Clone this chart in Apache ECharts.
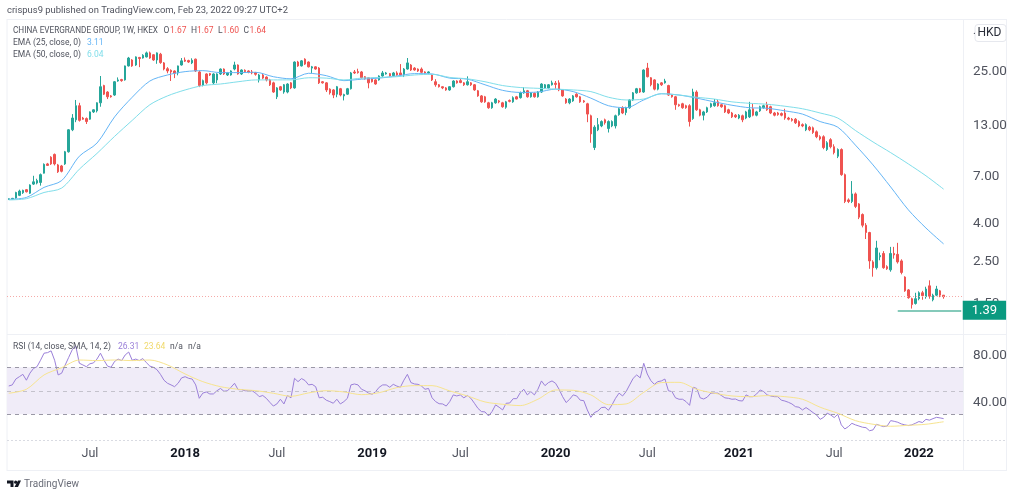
<!DOCTYPE html>
<html>
<head>
<meta charset="utf-8">
<title>China Evergrande Group, 1W</title>
<style>html,body{margin:0;padding:0;background:#fff}#main{width:1024px;height:496px}</style>
<script src="https://cdn.jsdelivr.net/npm/echarts@6/dist/echarts.min.js"></script>
</head>
<body>
<div id="main"></div>
<script>
// weekly bars, first bar is the week of 2017-01-23, 5 empty weeks on the right
var firstWeek = "2017-01-23";
var barCount = 271;

var timeTickWeeks = [23, 50, 76, 103, 128, 155, 181, 207, 234, 258];
var timeTickLabels = ["Jul", "2018", "Jul", "2019", "Jul", "2020", "Jul", "2021", "Jul", "2022"];
var priceTicks = [25, 13, 7, 4, 2.5, 1.5];
var rsiTicks = [80, 40];

var opens = [5.33,5.35,5.42,5.60,5.78,6.00,5.75,6.42,6.50,6.55,
7.33,8.20,8.90,9.20,8.10,8.00,8.20,9.50,12.4,14.0,
16.6,14.3,14.2,14.1,15.4,15.6,17.2,21.2,19.6,18.7,
18.9,22.4,22.8,22.7,26.9,28.9,27.2,29.8,29.6,30.0,
31.5,30.8,28.9,31.0,27.9,26.0,25.5,25.3,24.7,27.2,
28.9,28.7,27.9,29.2,25.0,21.3,24.4,24.5,21.9,22.7,
24.4,25.9,24.1,24.1,25.9,27.2,24.4,25.5,25.3,25.0,
24.8,22.7,24.1,23.5,22.7,21.9,18.5,20.9,19.6,19.6,
21.9,20.6,28.2,26.9,29.2,28.2,26.2,26.6,26.2,22.2,
21.9,20.3,20.1,19.1,20.4,18.7,19.1,20.4,25.0,25.1,
25.0,23.6,23.3,23.0,22.7,22.7,23.8,24.4,24.5,23.9,
24.7,24.7,24.1,25.9,27.2,26.2,25.9,25.9,25.0,24.7,
24.1,22.2,21.4,20.9,20.6,20.1,20.9,22.4,22.5,21.9,
21.4,21.9,21.4,19.9,18.7,18.5,17.2,16.2,17.2,17.6,
17.2,16.3,17.7,17.4,18.5,18.3,19.4,19.9,18.5,19.3,
18.5,19.6,20.6,20.6,21.4,21.8,21.9,20.1,18.0,17.2,
17.6,19.1,18.5,17.6,17.0,14.7,10.0,12.4,13.0,14.0,
12.6,13.0,13.0,14.9,16.2,15.3,16.2,17.8,19.4,20.4,
19.6,26.2,23.3,22.7,20.3,21.9,21.9,21.2,18.9,18.5,
16.8,17.0,16.6,16.6,14.2,19.6,15.8,14.8,15.4,16.4,
16.6,17.4,16.8,16.6,15.8,15.2,14.8,14.3,14.7,14.3,
14.5,16.0,14.8,15.6,16.2,16.8,16.4,15.2,15.2,15.1,
15.2,14.3,14.1,14.1,13.7,13.2,12.4,12.8,12.7,12.1,
11.4,11.4,9.76,11.0,10.1,9.0,9.76,7.2,5.3,5.2,
5.7,5.05,4.44,3.9,3.57,2.5,2.33,2.66,2.77,2.36,
2.27,2.77,2.74,2.53,2.08,1.78,1.6,1.51,1.6,1.72,
1.64,1.87,1.58,1.67,1.76,1.67];

var closes = [5.37,5.40,5.80,5.90,5.95,5.85,6.35,6.60,6.70,7.20,
8.16,8.05,8.20,8.20,7.45,7.50,9.50,12.4,14.3,16.6,
13.9,14.1,13.7,15.4,15.8,17.2,20.9,19.1,18.5,18.5,
22.2,22.7,22.5,26.9,29.6,26.9,30.0,29.4,30.6,31.5,
29.6,28.9,31.5,28.0,25.9,25.3,25.0,24.6,26.9,28.6,
28.5,28.2,28.8,25.3,21.2,22.5,21.9,24.1,24.4,24.4,
25.9,24.4,24.7,25.3,27.2,24.4,25.6,25.1,24.9,24.7,
24.3,24.1,23.2,22.7,21.4,19.6,20.6,20.1,21.4,21.6,
20.6,28.2,26.9,28.6,27.5,26.6,26.6,25.9,21.9,21.9,
20.1,19.4,18.9,20.9,18.9,19.0,20.4,24.7,24.7,24.8,
23.3,23.0,21.9,22.2,21.6,23.8,24.7,24.7,23.8,24.7,
24.1,24.1,25.9,27.9,25.6,25.6,25.3,24.9,24.7,25.0,
22.7,21.4,20.9,20.6,20.1,20.9,22.4,21.9,22.0,21.4,
22.2,21.4,20.1,18.7,17.4,17.4,16.2,17.2,18.0,17.4,
16.4,17.4,17.5,18.3,18.0,19.4,19.9,18.5,19.4,18.5,
19.6,21.6,21.4,21.4,21.9,21.5,20.1,18.7,17.2,18.0,
18.7,18.5,17.4,17.4,15.0,11.8,12.8,13.2,13.7,13.5,
13.7,13.7,14.7,16.0,15.2,16.2,17.8,19.4,20.4,19.6,
25.6,23.6,21.4,20.3,21.6,21.4,22.4,18.9,18.5,16.8,
16.6,16.2,16.2,13.7,19.6,15.8,14.8,15.4,16.2,17.0,
17.2,16.6,16.4,15.4,15.2,14.5,14.5,14.8,14.0,15.4,
15.8,14.8,15.4,16.4,16.6,15.8,15.2,14.8,14.9,14.8,
14.3,14.1,13.9,13.5,13.0,13.0,13.2,12.4,12.0,11.4,
11.1,10.0,10.6,10.1,9.4,9.76,7.2,5.2,5.2,5.7,
4.9,4.3,3.9,3.57,2.53,2.33,2.96,2.70,2.33,2.30,
2.77,2.72,2.50,2.20,1.76,1.62,1.49,1.60,1.72,1.66,
1.80,1.65,1.67,1.80,1.67,1.64];

var lows = [5.31,5.33,5.38,5.55,5.70,5.80,5.70,6.35,6.40,6.30,
7.30,8.00,8.10,8.05,7.35,7.40,8.10,9.40,12.2,13.6,
13.7,14.0,13.3,14.0,15.2,15.3,16.4,18.9,18.0,18.3,
18.7,22.2,22.2,22.5,26.7,26.6,26.9,26.5,29.4,29.8,
29.3,28.6,27.6,27.6,25.5,24.6,22.4,23.2,24.0,27.0,
28.2,27.9,27.5,25.0,20.8,21.0,21.5,23.8,21.6,21.8,
24.1,24.1,23.8,23.9,25.5,24.2,24.1,24.9,24.6,24.3,
23.9,22.0,22.9,22.3,21.1,19.4,18.0,19.9,19.2,19.3,
20.3,20.4,26.6,26.7,27.2,26.4,24.7,25.7,21.6,21.7,
19.6,19.0,18.2,18.4,18.6,17.7,18.9,20.2,24.4,24.5,
23.1,22.8,20.5,22.0,21.4,22.5,23.6,24.2,23.6,23.7,
23.9,23.9,23.5,25.7,25.3,25.4,25.0,24.6,24.5,24.5,
22.4,20.9,20.7,20.3,19.9,19.9,20.7,21.7,21.8,21.1,
21.2,21.1,19.9,18.5,17.2,17.2,16.0,16.0,17.0,17.1,
16.2,16.0,17.3,17.2,17.9,18.1,19.2,18.3,18.3,18.3,
18.3,19.4,20.4,20.4,21.2,20.4,19.8,18.5,17.0,16.9,
17.4,18.3,17.2,17.2,13.6,10.6,9.7,12.2,12.8,13.2,
12.0,12.8,12.6,14.7,15.0,14.8,16.0,17.6,19.2,19.4,
19.4,23.4,21.0,20.0,20.0,21.1,21.7,18.7,18.3,15.8,
16.4,16.0,16.0,12.9,14.0,15.6,14.6,13.9,15.2,16.2,
16.4,16.4,16.2,15.2,15.0,14.3,14.3,14.1,13.6,14.1,
14.3,14.6,14.6,15.4,16.0,15.6,15.0,14.6,14.7,14.6,
14.0,13.9,13.7,13.3,12.8,12.8,12.2,12.2,11.8,11.2,
10.9,9.8,9.6,9.9,9.2,8.8,7.1,5.1,5.1,5.1,
4.8,4.2,3.8,3.3,2.3,2.09,2.28,2.55,2.30,2.27,
2.22,2.60,2.45,2.15,1.74,1.60,1.42,1.49,1.57,1.58,
1.60,1.60,1.55,1.65,1.63,1.60];

var highs = [5.40,5.43,5.85,6.00,6.00,6.05,6.40,7.10,6.85,7.30,
8.25,8.30,9.00,9.30,8.20,8.10,9.60,12.5,15.0,17.8,
17.2,14.5,14.4,15.5,15.9,17.3,23.8,21.4,19.8,18.9,
22.4,23.4,23.0,27.0,30.0,29.2,30.2,30.0,31.0,32.0,
32.0,31.0,31.7,31.5,28.2,26.5,25.8,25.5,27.0,29.6,
29.8,29.0,29.5,29.4,25.4,22.8,24.6,24.7,24.6,24.6,
26.1,26.1,25.0,25.5,28.3,27.4,25.8,25.8,25.5,25.6,
25.0,24.4,24.5,23.7,23.0,22.2,20.8,21.1,21.6,21.8,
22.1,28.4,28.6,28.9,29.5,28.4,26.9,26.8,26.5,22.4,
22.1,20.5,20.3,21.1,20.6,19.2,20.6,25.0,25.6,26.0,
25.3,23.8,23.5,23.2,22.9,24.0,25.3,25.0,24.7,25.0,
25.2,27.5,26.2,29.6,27.5,26.5,26.1,26.4,25.2,25.2,
24.3,22.9,21.6,21.0,20.8,21.0,22.6,22.6,23.0,22.1,
23.7,22.1,21.6,20.1,18.9,18.7,17.4,17.4,18.2,17.8,
17.4,17.6,17.9,18.6,18.7,19.7,20.8,20.1,19.6,19.5,
19.8,21.8,21.6,21.6,22.5,22.4,22.6,20.3,18.2,18.2,
18.9,19.3,18.7,17.8,17.2,14.9,13.1,14.3,13.9,14.2,
13.9,13.9,14.9,16.2,16.5,16.4,18.0,19.6,20.6,20.6,
25.8,27.9,23.5,22.9,21.8,22.1,23.0,21.4,19.1,18.7,
17.0,17.2,16.8,16.9,20.4,20.0,16.0,15.6,16.4,17.2,
18.0,17.8,17.0,16.8,16.0,15.4,15.0,15.0,14.9,15.6,
17.4,17.0,15.6,16.6,16.8,17.4,16.6,15.4,15.4,15.3,
16.0,14.5,14.3,14.3,13.9,13.4,13.4,13.0,12.9,12.3,
11.6,11.6,10.8,11.2,10.4,9.9,9.9,7.3,5.4,6.66,
5.8,5.1,4.5,4.0,3.6,2.55,3.23,2.80,2.85,2.40,
3.0,3.0,3.15,2.58,2.10,1.80,1.62,1.72,1.75,1.76,
1.85,2.00,1.70,1.87,1.78,1.67];

var sampleWeeks = [0,5,10,15,20,25,30,35,40,45,50,55,60,65,70,75,80,85,90,95,
100,105,110,115,120,125,130,135,140,145,150,155,160,165,170,175,180,185,190,195,
200,205,210,215,220,225,230,235,240,245,250,255,260,265];
var ema25 = [5.34,5.46,6.17,6.7,9.0,10.55,14.5,18.4,22.4,24.1,25.1,25.4,24.8,24.8,24.9,23.6,23.0,24.6,23.9,
22.5,22.9,23.2,23.8,24.5,24.4,23.2,22.9,21.4,20.0,19.5,19.6,20.3,19.7,18.2,16.6,16.2,17.8,19.2,18.9,
18.2,17.4,16.7,16.2,16.1,15.6,15.0,13.7,12.8,10.3,8.1,6.2,4.7,3.77,3.11];
var ema50 = [5.3,5.38,5.8,6.12,7.69,9.31,11.45,13.9,16.8,18.7,20.1,21.2,21.6,22.2,22.7,22.7,22.7,23.3,23.2,
22.7,23.2,23.4,23.6,24.1,24.3,23.4,23.0,22.2,21.2,20.7,20.5,20.3,20.1,19.7,18.4,17.8,18.0,19.2,18.9,
18.4,18.0,17.4,17.1,16.9,16.5,16.0,15.2,14.3,12.3,10.7,9.4,8.2,7.1,6.04];
var rsiSma = [47.9,51.3,63.5,69.7,76.2,75.7,76.2,75.7,76.2,72,64.3,57.8,53.5,51.3,50.1,47.9,45.3,48.2,50.1,
49,46.7,48.4,52.7,54.4,54.4,49.9,45.6,40.5,38.5,37.4,42.8,50.7,50.4,46.5,38.2,38.8,48.7,57,57.2,
51.3,47.9,45.6,45,45.9,45,42.8,36,30.9,24.6,21.5,19.8,20.6,21.5,23.64];

var rsi = [54.1,55,60,62,64,59,65,69,70.5,76,
82,82.5,84,76,63.5,65,72,78.5,85,88,
73.5,72,70.5,73,73.7,77,82,76,71,70,
75,77,75.7,80.5,83,76,77,75.7,77.4,74,
71,70,68,64,59,56.4,55,53.5,56.4,61,
62,60.6,60,55,43.6,48,49,47.3,47.3,50,
52,49.6,50,53,56.4,51,51,50,50,50,
48,45,46,43.6,40.2,37,38.8,42.8,38.8,46,
44,60.6,57.8,60.4,58.7,55,55.5,53.5,44,44.5,
42,40.8,39.4,42.8,38.8,40.8,43.6,55,55.8,55,
51.3,50,48,47,49.3,53,55,55,53,55.5,
54,53,59,64,57,55.8,55.5,54,51.3,52,
44,40.8,39,38.8,37,40.8,46.5,45.6,46.5,44,
46,43.6,39.4,35,32.3,32,28.6,32.3,38,36,
33.7,39.4,39.6,43.3,43.3,48.4,51.3,46.5,49.3,46.5,
51.3,58.4,54.4,57,58.4,56.4,51.3,45,40,42.8,
46.5,45.6,42,41.6,33.7,27.4,31.4,32.8,35.7,36,
33.4,38,43.6,48,45.6,49.3,55,60.6,63.5,61,
73.4,64.3,58.7,55.5,57.8,58.4,60,50,49.3,44,
42.8,42.8,40.8,37.6,53,52,44,43,44.6,48,
48,48,46,44,43.6,42.8,43,41.6,41.3,46.5,
45,45,47.3,50.7,49.3,46.5,45.6,45,45,42,
41.3,40.2,38.8,36.5,36,33.7,35.7,33.7,31.4,29.4,
25.7,27.4,31,29.4,27.2,30,21,17.5,19.5,22.3,
21,20,19,18.6,16,16.7,21.5,20.4,19.5,20,
24.6,24,23.2,21.8,21,20.4,21,22.3,23.8,23,
25.7,25,26.3,27.4,26.9,26.31];

var lastPrice = 1.64;
var supportPrice = 1.39;
var supportFromWeek = 252;

var upColor = "#26a69a", downColor = "#ef5350";
var textFont = "Roboto, 'Noto Sans', sans-serif";
var legendGray = "#50535e";
var legendSize = 8.5;

// category axis, one entry per week
var weeks = [];
var d0 = new Date(firstWeek + "T00:00:00Z");
for (var i = 0; i < barCount; i++) {
	weeks.push(new Date(d0.getTime() + i * 7 * 86400000).toISOString().slice(0, 10));
}

var candles = [];
for (var i = 0; i < opens.length; i++) {
	candles.push([opens[i], closes[i], lows[i], highs[i]]);
}
function sampled(arr) {
	var out = [];
	for (var i = 0; i < arr.length; i++) {
		out.push([sampleWeeks[i], arr[i]]);
	}
	return out;
}

function headerText(text, x, y, size, color) {
	return {
		type: "text", x: x, y: y, z: 20, silent: true,
		style: { text: text, fontFamily: textFont, fontSize: size, fill: color, verticalAlign: "middle" }
	};
}
function frameLine(x1, y1, x2, y2, color, dash) {
	return {
		type: "line", silent: true, z: -1,
		shape: { x1: x1, y1: y1, x2: x2, y2: y2 },
		style: { stroke: color, lineWidth: 1, lineDash: dash || null }
	};
}

var option = {
	animation: false,
	backgroundColor: "#fff",
	textStyle: { fontFamily: textFont },
	grid: [
		{ left: 7, right: 61, top: 19, height: 314 },
		{ left: 7, right: 61, top: 335, height: 105 }
	],
	xAxis: [
		{ type: "category", gridIndex: 0, data: weeks, show: false },
		{
			type: "category", gridIndex: 1, data: weeks,
			axisLine: { show: false }, axisTick: { show: false }, splitLine: { show: false },
			axisLabel: {
				margin: 7, hideOverlap: false,
				interval: function(index) { return timeTickWeeks.indexOf(index) >= 0; },
				formatter: function(value, index) {
					var s = timeTickLabels[timeTickWeeks.indexOf(index)];
					return s == "Jul" ? "{m|" + s + "}" : "{y|" + s + "}";
				},
				rich: {
					m: { fontFamily: textFont, fontSize: 12.5, color: legendGray },
					y: { fontFamily: textFont, fontSize: 13, fontWeight: "bold", color: "#131722" }
				}
			}
		}
	],
	yAxis: [
		{
			type: "log", logBase: 10, gridIndex: 0, position: "right", min: 1.056, max: 47.5,
			axisLine: { show: false }, axisTick: { show: false }, splitLine: { show: false }, minorTick: { show: false },
			axisLabel: {
				customValues: priceTicks, margin: 10, fontSize: 13.5, color: legendGray, fontFamily: textFont,
				formatter: function(v) { return Number(v).toFixed(2); }
			}
		},
		{
			type: "value", gridIndex: 1, position: "right", min: 8.1, max: 97.5,
			axisLine: { show: false }, axisTick: { show: false }, splitLine: { show: false },
			axisLabel: {
				customValues: rsiTicks, margin: 10, fontSize: 13.5, color: legendGray, fontFamily: textFont,
				formatter: function(v) { return Number(v).toFixed(2); }
			}
		}
	],
	series: [
		{
			name: "EVERGRANDE", type: "candlestick", xAxisIndex: 0, yAxisIndex: 0, data: candles,
			barWidth: 2, z: 3, silent: true,
			itemStyle: { color: upColor, color0: downColor, borderColor: upColor, borderColor0: downColor, borderWidth: 1 },
			markLine: {
				silent: true, symbol: "none", animation: false,
				data: [
					[
						{ coord: [weeks[supportFromWeek], supportPrice], lineStyle: { color: "#5cb8a3", type: "solid", width: 1.5 } },
						{
							coord: [weeks[barCount - 1], supportPrice],
							label: {
								show: true, position: "end", distance: 1.5, formatter: supportPrice.toFixed(2),
								color: "#fff", fontSize: 13, fontFamily: textFont, backgroundColor: "#0a9a80",
								padding: [3, 9, 3, 9], lineHeight: 13, align: "left", verticalAlign: "middle"
							}
						}
					]
				]
			}
		},
		{
			name: "EMA 25", type: "line", xAxisIndex: 0, yAxisIndex: 0, data: sampled(ema25),
			symbol: "none", smooth: 0.3, z: 4, silent: true, lineStyle: { color: "#64b5f6", width: 1 },
			// last close, dotted across the pane
			markLine: {
				silent: true, symbol: "none", animation: false,
				label: { show: false },
				lineStyle: { color: "#f5aaa8", type: [1, 2], width: 1 },
				data: [{ yAxis: lastPrice }]
			}
		},
		{
			name: "EMA 50", type: "line", xAxisIndex: 0, yAxisIndex: 0, data: sampled(ema50),
			symbol: "none", smooth: 0.3, z: 4, silent: true, lineStyle: { color: "#80deea", width: 1 }
		},
		{
			name: "RSI", type: "line", xAxisIndex: 1, yAxisIndex: 1, data: rsi,
			symbol: "none", z: 4, silent: true, lineStyle: { color: "#9b80d9", width: 1 },
			markArea: {
				silent: true, itemStyle: { color: "#f0ecf8" },
				data: [[{ yAxis: 70 }, { yAxis: 30 }]]
			},
			markLine: {
				silent: true, symbol: "none", animation: false,
				label: { show: false },
				lineStyle: { color: "#9a98a6", type: [4, 4], width: 1 },
				data: [{ yAxis: 70 }, { yAxis: 50, lineStyle: { color: "#c4c2cc" } }, { yAxis: 30 }]
			}
		},
		{
			name: "RSI SMA", type: "line", xAxisIndex: 1, yAxisIndex: 1, data: sampled(rsiSma),
			symbol: "none", smooth: 0.3, z: 5, silent: true, lineStyle: { color: "#f7e48f", width: 1 }
		}
	],
	graphic: [
		// chart frame and pane dividers
		frameLine(7, 19.5, 1006, 19.5, "#eef0f5"),
		frameLine(7, 19, 7, 471, "#eef0f5"),
		frameLine(7, 470.5, 1006, 470.5, "#eef0f5"),
		frameLine(1006.5, 19, 1006.5, 471, "#eef0f5"),
		frameLine(963.5, 19, 963.5, 471, "#eef0f5"),
		frameLine(7, 334.5, 1006, 334.5, "#eef0f5"),
		frameLine(7, 440.5, 1006, 440.5, "#d9dbe2", [2, 2]),
		headerText("crispus9 published on TradingView.com, Feb 23, 2022 09:27 UTC+2", 7, 11, 9.44, legendGray),
		headerText("CHINA EVERGRANDE GROUP, 1W, HKEX", 13, 30.5, 8.2, legendGray),
		headerText("O", 163.5, 30.5, legendSize, legendGray),
		headerText("1.67", 170, 30.5, legendSize, downColor),
		headerText("H", 191, 30.5, legendSize, legendGray),
		headerText("1.67", 197, 30.5, legendSize, downColor),
		headerText("L", 218, 30.5, legendSize, legendGray),
		headerText("1.60", 222.5, 30.5, legendSize, downColor),
		headerText("C", 243.5, 30.5, legendSize, legendGray),
		headerText("1.64", 249.5, 30.5, legendSize, downColor),
		headerText("EMA (25, close, 0)", 13, 42.5, legendSize, legendGray),
		headerText("3.11", 87, 42.5, legendSize, "#64b5f6"),
		headerText("EMA (50, close, 0)", 13, 54.5, legendSize, legendGray),
		headerText("6.04", 87, 54.5, legendSize, "#80deea"),
		headerText("RSI (14, close, SMA, 14, 2)", 13, 346.5, legendSize, legendGray),
		headerText("26.31", 118, 346.5, legendSize, "#9b80d9"),
		headerText("23.64", 144, 346.5, legendSize, "#f0d96b"),
		headerText("n/a", 170, 346.5, legendSize, legendGray),
		headerText("n/a", 188, 346.5, legendSize, legendGray),
		// currency badge
		{
			type: "rect", silent: true, z: 18,
			shape: { x: 975, y: 24.5, width: 31, height: 17, r: 3 },
			style: { fill: "#fff", stroke: "#e6e8ee", lineWidth: 1 }
		},
		headerText("HKD", 977.5, 33, 12, "#2a2e39"),
		headerText(".", 973, 31, 11, legendGray),
		// TradingView logo
		{ type: "polygon", silent: true, shape: { points: [[7, 480.5], [13.5, 480.5], [13.5, 487], [10.5, 487], [10.5, 483.5], [7, 483.5]] }, style: { fill: "#131722" } },
		{ type: "circle", silent: true, shape: { cx: 15.7, cy: 482.2, r: 1.6 }, style: { fill: "#131722" } },
		{ type: "polygon", silent: true, shape: { points: [[18, 480.5], [21, 480.5], [18, 487], [14.5, 487]] }, style: { fill: "#131722" } },
		headerText("TradingView", 24, 484, 10, "#6a6d78")
	]
};

var myChart = echarts.init(document.getElementById("main"));
myChart.setOption(option);
</script>
</body>
</html>
